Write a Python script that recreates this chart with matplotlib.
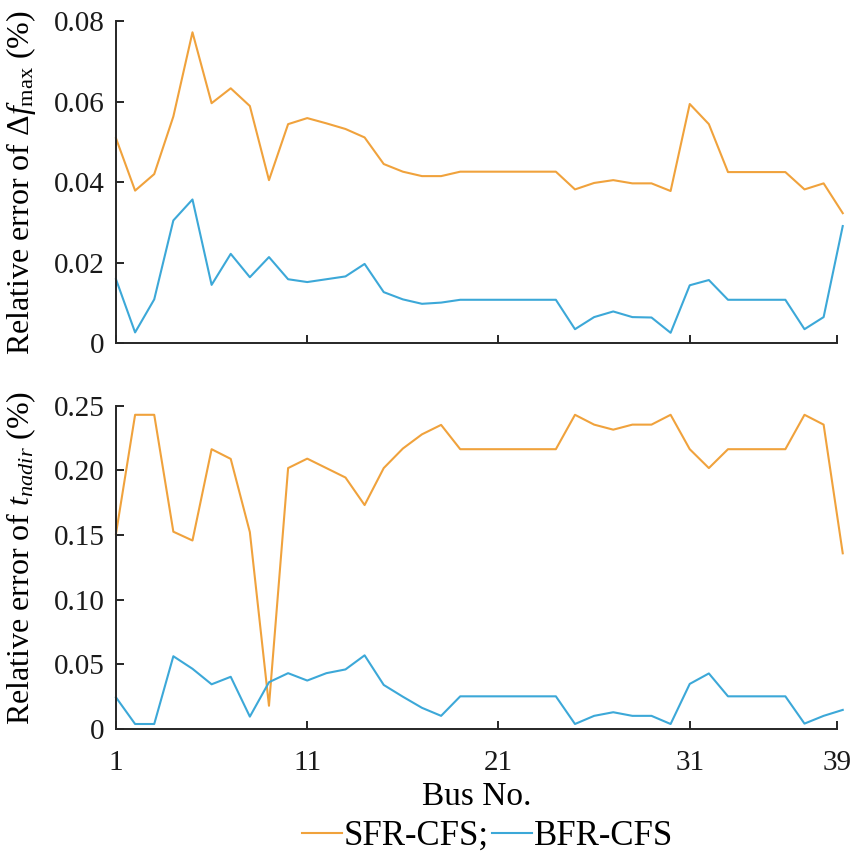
import numpy as np
import matplotlib
matplotlib.use('Agg')
import matplotlib.pyplot as plt

# 数据
bus_no = list(range(1, 40))

# 上图：Δf_max 相对误差 (%)
sfr_df = [0.0509, 0.0379, 0.0420, 0.0563, 0.0772, 0.0596, 0.0633, 0.0589, 0.0405, 0.0544,
          0.0559, 0.0546, 0.0532, 0.0511, 0.0445, 0.0426, 0.0415, 0.0415, 0.0426, 0.0426,
          0.0426, 0.0426, 0.0426, 0.0426, 0.0382, 0.0398, 0.0405, 0.0397, 0.0397, 0.0378,
          0.0594, 0.0544, 0.0425, 0.0425, 0.0425, 0.0425, 0.0382, 0.0397, 0.0323]
bfr_df = [0.0159, 0.0027, 0.0109, 0.0305, 0.0357, 0.0145, 0.0222, 0.0164, 0.0214, 0.0159,
          0.0152, 0.0159, 0.0166, 0.0197, 0.0127, 0.0109, 0.0098, 0.0101, 0.0108, 0.0108,
          0.0108, 0.0108, 0.0108, 0.0108, 0.0035, 0.0065, 0.0079, 0.0065, 0.0064, 0.0026,
          0.0144, 0.0157, 0.0108, 0.0108, 0.0108, 0.0108, 0.0035, 0.0065, 0.0291]

# 下图：t_nadir 相对误差 (%)
sfr_t = [0.151, 0.243, 0.243, 0.1526, 0.1458, 0.2164, 0.2089, 0.1523, 0.018, 0.2018,
         0.2091, 0.2018, 0.1945, 0.1732, 0.2018, 0.2169, 0.2279, 0.2352, 0.2164, 0.2164,
         0.2164, 0.2164, 0.2164, 0.2164, 0.243, 0.2354, 0.2315, 0.2354, 0.2354, 0.243,
         0.2164, 0.2018, 0.2164, 0.2164, 0.2164, 0.2164, 0.243, 0.2354, 0.1359]
bfr_t = [0.0245, 0.0039, 0.0039, 0.0563, 0.0466, 0.0346, 0.0404, 0.0096, 0.0362, 0.0432,
         0.0375, 0.0432, 0.0461, 0.0570, 0.0341, 0.0250, 0.0164, 0.0102, 0.0253, 0.0253,
         0.0253, 0.0253, 0.0253, 0.0253, 0.0039, 0.0102, 0.0130, 0.0102, 0.0102, 0.0039,
         0.0349, 0.0430, 0.0253, 0.0253, 0.0253, 0.0253, 0.0042, 0.0102, 0.0148]

x_ticks = [1, 11, 21, 31, 38.7]
x_ticklabels = ['1', '11', '21', '31', '39']
top_yticks = [0, 0.02, 0.04, 0.06, 0.08]
top_yticklabels = ['0', '0.02', '0.04', '0.06', '0.08']
bot_yticks = [0, 0.05, 0.10, 0.15, 0.20, 0.25]
bot_yticklabels = ['0', '0.05', '0.10', '0.15', '0.20', '0.25']

ORANGE = '#F0A23C'
BLUE = '#3CA8D8'
AXIS_COLOR = '#262626'

plt.rcParams['font.family'] = ['Liberation Serif', 'DejaVu Serif']
plt.rcParams['mathtext.fontset'] = 'custom'
plt.rcParams['mathtext.rm'] = 'Liberation Serif'
plt.rcParams['mathtext.it'] = 'Liberation Serif:italic'
plt.rcParams['font.size'] = 21

fig = plt.figure(figsize=(8.54, 8.58), dpi=100)
ax1 = fig.add_axes([0.1358, 0.5999, 0.8443, 0.3756])
ax2 = fig.add_axes([0.1358, 0.1503, 0.8443, 0.3768])


def style_axis(ax, yticks, yticklabels):
    ax.set_xlim(1, 38.7)
    ax.set_xticks(x_ticks)
    ax.set_yticks(yticks)
    ax.set_yticklabels(yticklabels)
    ax.set_ylim(yticks[0], yticks[-1])
    for side in ['top', 'right']:
        ax.spines[side].set_visible(False)
    for side in ['left', 'bottom']:
        ax.spines[side].set_color(AXIS_COLOR)
        ax.spines[side].set_linewidth(1.4)
    ax.tick_params(direction='in', length=6, width=1.4, color=AXIS_COLOR,
                   labelcolor='#1a1a1a', labelsize=21)
    ax.tick_params(axis='y', pad=8)
    ax.tick_params(axis='x', pad=15)


l1, = ax1.plot(bus_no, sfr_df, color=ORANGE, lw=1.5, clip_on=False)
l2, = ax1.plot(bus_no, bfr_df, color=BLUE, lw=1.5, clip_on=False)
style_axis(ax1, top_yticks, top_yticklabels)
ax1.set_xticklabels([])
ax1.set_ylabel(r'Relative error of $\Delta f_{\mathrm{max}}$ (%)', fontsize=23)
ax1.yaxis.set_label_coords(-0.108, 0.5)

ax2.plot(bus_no, sfr_t, color=ORANGE, lw=1.5, clip_on=False)
ax2.plot(bus_no, bfr_t, color=BLUE, lw=1.5, clip_on=False)
style_axis(ax2, bot_yticks, bot_yticklabels)
ax2.set_xticklabels(x_ticklabels)
ax2.set_ylabel(r'Relative error of $t_{nadir}$ (%)', fontsize=23)
ax2.yaxis.set_label_coords(-0.108, 0.53)
ax2.set_xlabel('Bus No.', fontsize=24, labelpad=4)

fig.legend([l1, l2], ['SFR-CFS;', 'BFR-CFS'], loc='center',
           bbox_to_anchor=(0.571, 0.025), ncol=2, frameon=False,
           fontsize=25, handlelength=1.15, handletextpad=0.05,
           columnspacing=0.1, borderaxespad=0)

plt.savefig('out.png', dpi=100)
